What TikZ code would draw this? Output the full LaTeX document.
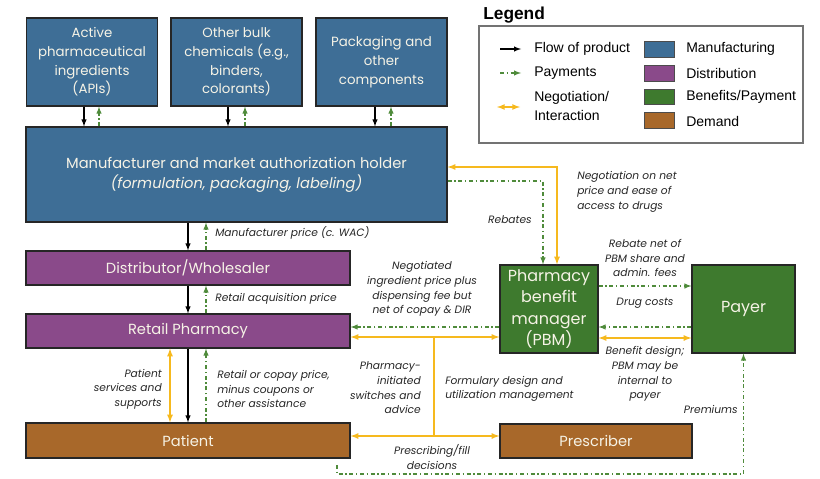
\documentclass[tikz,border=0pt]{standalone}
\usepackage{fontspec}
\setmainfont{Poppins}
\newfontfamily\legendfont{Liberation Sans}
\usetikzlibrary{arrows,calc,positioning}

\definecolor{mblue}{HTML}{3E6E96}
\definecolor{dpurple}{HTML}{8A4A8A}
\definecolor{bgreen}{HTML}{3E7A2E}
\definecolor{dbrown}{HTML}{A8682A}
\definecolor{paygreen}{HTML}{4F8B3B}
\definecolor{negoyellow}{HTML}{F6B91E}
\definecolor{boxtext}{HTML}{F6F3E6}

\tikzset{
  box/.style={draw=black!85, line width=0.9pt, text=boxtext, align=center, inner sep=0pt},
  mbox/.style={box, fill=mblue, font=\fontsize{10}{14}\selectfont},
  dbox/.style={box, fill=dpurple, font=\fontsize{11}{13}\selectfont, minimum width=243pt, minimum height=25.5pt},
  gbox/.style={box, fill=bgreen, font=\fontsize{12}{16}\selectfont, minimum height=66pt},
  bbox/.style={box, fill=dbrown, font=\fontsize{11}{13}\selectfont, minimum height=25.5pt},
  flow/.style={-latex, black, line width=0.8pt},
  pay/.style={-latex, paygreen, line width=0.8pt, dash pattern=on 3pt off 2pt on 1pt off 2pt},
  nego/.style={latex-latex, negoyellow, line width=1pt},
  lab/.style={font=\fontsize{8}{11}\selectfont\itshape, text=black!85, inner sep=0pt},
  swatch/.style={draw=black!70, line width=0.6pt, minimum width=22.5pt, minimum height=11.5pt, inner sep=0pt},
  leg/.style={font=\legendfont\fontsize{10.5}{14}\selectfont, anchor=west, inner sep=0pt, align=left}
}

\begin{document}
\begin{tikzpicture}[x=0.75pt,y=-0.75pt]
\useasboundingbox (0,0) rectangle (820,478);

\node[mbox, minimum width=98.25pt, minimum height=66pt] at (92,62) (api) {Active\\pharmaceutical\\ingredients\\(APIs)};
\node[mbox, minimum width=98.25pt, minimum height=66pt] at (236.5,62) (bulk) {Other bulk\\chemicals (e.g.,\\binders,\\colorants)};
\node[mbox, minimum width=98.25pt, minimum height=66pt] at (381.5,62) (pack) {Packaging and\\other\\components};
\node[mbox, minimum width=315.75pt, minimum height=71.25pt, font=\fontsize{11}{15}\selectfont] at (236.5,174.5) (mfr) {Manufacturer and market authorization holder\\{\itshape (formulation, packaging, labeling)}};

\node[dbox] at (188,268) (dist) {Distributor/Wholesaler};
\node[dbox] at (188,331) (retail) {Retail Pharmacy};
\node[bbox, minimum width=243pt, minimum height=26.25pt] at (188,440.5) (patient) {Patient};
\node[gbox, minimum width=73.5pt] at (549,309) (pbm) {Pharmacy\\benefit\\manager\\(PBM)};
\node[gbox, minimum width=77.25pt] at (743.5,309) (payer) {Payer};
\node[bbox, minimum width=144pt] at (596,441) (presc) {Prescriber};

% supplies into the manufacturer
\foreach \s/\bx/\gx in {api/-8/7, bulk/-8.5/8.5, pack/-6.5/9.5} {
  \coordinate (fl) at ($(\s.south)+(\bx,0)$);
  \coordinate (py) at ($(\s.south)+(\gx,0)$);
  \draw[flow] (fl) -- (fl |- mfr.north);
  \draw[pay] (py |- mfr.north) -- (py);
}

% down the chain
\coordinate (mpy) at ($(dist.north)+(18,0)$);
\draw[flow] (dist.north |- mfr.south) -- (dist.north);
\draw[pay] (mpy) -- (mpy |- mfr.south);
\node[lab, anchor=west] at (215,233) (mprice) {Manufacturer price (c. WAC)};
\draw[flow] (dist.south) -- (retail.north);
\draw[pay] ($(retail.north)+(18,0)$) -- ($(dist.south)+(18,0)$);
\node[lab, anchor=west] at (215,299) (rprice) {Retail acquisition price};
\draw[flow] (retail.south) -- (patient.north);
\draw[pay] ($(patient.north)+(18,0)$) -- ($(retail.south)+(18,0)$);
\draw[nego] ($(retail.south)+(-18,0)$) -- ($(patient.north)+(-18,0)$);
\node[lab, anchor=east, align=right] at (162,389) (psupp) {Patient\\services and\\supports};
\node[lab, anchor=west, align=left] at (217,389) (cprice) {Retail or copay price,\\minus coupons or\\other assistance};

% manufacturer and PBM
\draw[nego] ($(pbm.north)+(8,0)$) |- ($(mfr.east)+(0,-7.5)$);
\draw[pay] ($(mfr.east)+(0,6.5)$) -| ($(pbm.north)+(-6,0)$);
\node[lab, anchor=east] at (532,220) (rebates) {Rebates};
\node[lab, anchor=west, align=left] at (577,192) (netneg) {Negotiation on net\\price and ease of\\access to drugs};

% PBM and payer
\draw[pay] ($(pbm.east)+(0,-23)$) -- ($(payer.west)+(0,-23)$);
\draw[pay] ($(payer.west)+(0,18)$) -- ($(pbm.east)+(0,18)$);
\draw[nego] ($(pbm.east)+(0,29)$) -- ($(payer.west)+(0,29)$);
\node[lab, align=center] at (645,258) (rebnet) {Rebate net of\\PBM share and\\admin. fees};
\node[lab] at (645,303) (drugc) {Drug costs};
\node[lab, align=center] at (645,374) (bdesign) {Benefit design;\\PBM may be\\internal to\\payer};

% pharmacy, patient, PBM, prescriber
\coordinate (jt) at (434,337);
\coordinate (jb) at (434,436);
\draw[pay] ($(pbm.west)+(0,18)$) -- ($(retail.east)+(0,-4)$);
\draw[nego] (retail.east |- jt) -- (pbm.west |- jt);
\draw[nego] (patient.east |- jb) -- (presc.west |- jb);
\draw[negoyellow, line width=1pt] (jt) -- (jb);
\node[lab, align=center] at (422,289) (ingr) {Negotiated\\ingredient price plus\\dispensing fee but\\net of copay \& DIR};
\node[lab, anchor=east, align=right] at (421,388) (switch) {Pharmacy-\\initiated\\switches and\\advice};
\node[lab, anchor=west, align=left] at (445,389) (formul) {Formulary design and\\utilization management};
\node[lab, align=center] at (432,457) (prescfill) {Prescribing/fill\\decisions};

% premiums
\coordinate (pstart) at (337,465);
\coordinate (pcorner) at (743.5,474);
\draw[pay] (pstart) |- (pcorner) -- (payer.south);
\node[lab, anchor=east] at (738,409) (prem) {Premiums};

% legend
\node[anchor=west, inner sep=0pt, font=\legendfont\bfseries\fontsize{13}{15}\selectfont] at (483,15) (legtitle) {Legend};
\draw[black!55, line width=0.9pt] (479,26) rectangle (803,143);
\coordinate (fa) at (500,49);
\coordinate (fb) at (521,49);
\draw[flow] (fa) -- (fb);
\node[leg] at (534,49) (lflow) {Flow of product};
\coordinate (pa) at (500,73);
\coordinate (pb) at (521,73);
\draw[pay] (pa) -- (pb);
\node[leg] at (534,73) (lpay) {Payments};
\coordinate (na) at (497,107);
\coordinate (nb) at (520,107);
\draw[nego] (na) -- (nb);
\node[leg] at (534,106) (lnego) {Negotiation/\\Interaction};
\node[swatch, fill=mblue] at (659,49.5) (smfr) {};
\node[swatch, fill=dpurple] at (659,73.5) (sdist) {};
\node[swatch, fill=bgreen] at (659,97) (sben) {};
\node[swatch, fill=dbrown] at (659,120.5) (sdem) {};
\node[leg] at (686,49) (lmfr) {Manufacturing};
\node[leg] at (686,73) (ldist) {Distribution};
\node[leg] at (686,97) (lben) {Benefits/Payment};
\node[leg] at (686,121) (ldem) {Demand};
\end{tikzpicture}
\end{document}
